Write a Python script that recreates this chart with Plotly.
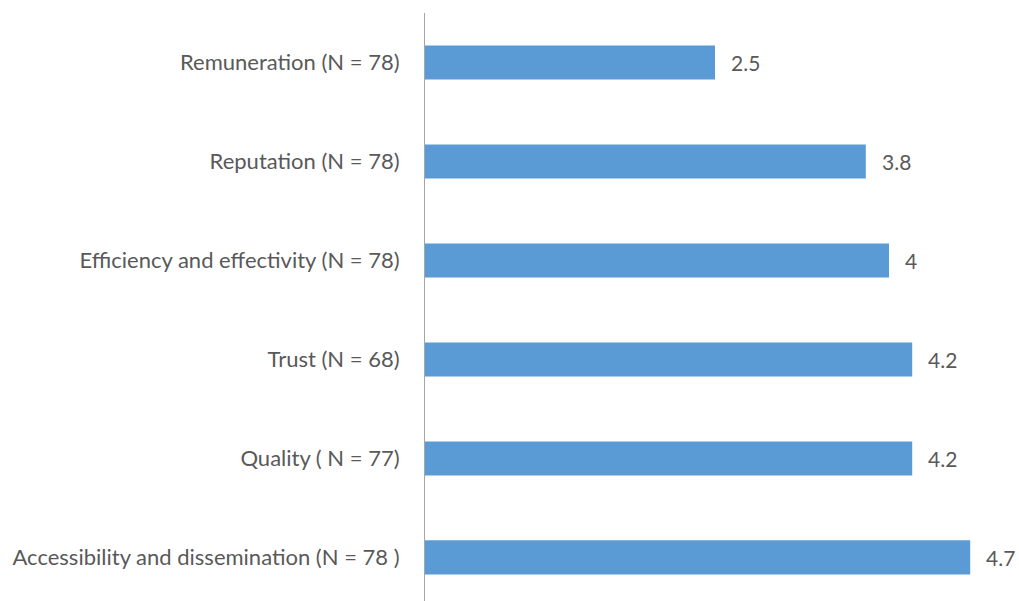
import plotly.graph_objects as go

categories = [
    "Remuneration (N = 78)",
    "Reputation (N = 78)",
    "Efficiency and effectivity (N = 78)",
    "Trust (N = 68)",
    "Quality ( N = 77)",
    "Accessibility and dissemination (N = 78 )",
]
values = [2.5, 3.8, 4, 4.2, 4.2, 4.7]
value_labels = ["2.5", "3.8", "4", "4.2", "4.2", "4.7"]

FONT = "Lato"
GRAY = "#595959"

fig = go.Figure(go.Bar(
    x=values, y=categories, orientation="h",
    marker=dict(color="#5B9BD5", line=dict(width=0)),
    width=0.345,
))

for v, c, t in zip(values, categories, value_labels):
    fig.add_annotation(x=v, y=c, text=t, showarrow=False, xanchor="left",
                       xshift=14, font=dict(family=FONT, size=21, color=GRAY))

fig.update_layout(
    width=1019, height=601,
    margin=dict(l=425, r=14, t=13, b=0, pad=0),
    plot_bgcolor="white", paper_bgcolor="white",
    showlegend=False,
    xaxis=dict(range=[0, 5], showgrid=False, zeroline=False, showticklabels=False,
               showline=False, ticks=""),
    yaxis=dict(range=[5.44, -0.5], showgrid=False, zeroline=False,
               showline=True, linecolor="#A6A6A6", linewidth=1, ticks="",
               ticklabelstandoff=20,
               tickfont=dict(family=FONT, size=22, color=GRAY)),
)

fig.write_html("out.html", config={"displayModeBar": False},
               post_script="document.body.style.margin='0';document.body.style.overflow='hidden';")
